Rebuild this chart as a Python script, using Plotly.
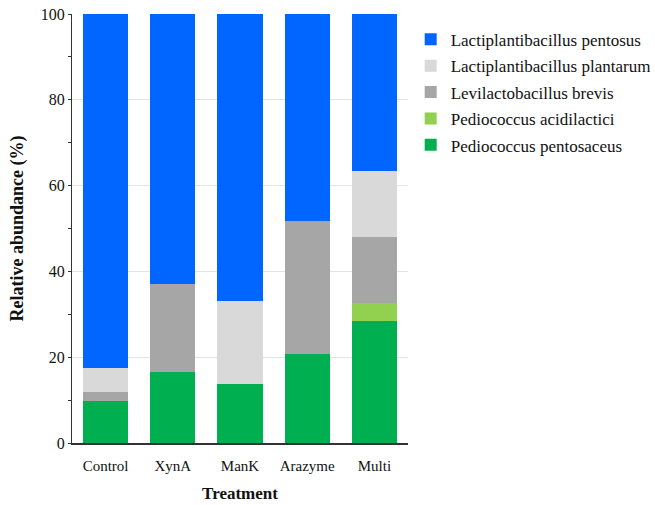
import plotly.graph_objects as go

treatments = ["Control", "XynA", "ManK", "Arazyme", "Multi"]

# relative abundance (%) per species, stacked bottom to top
p_pentosaceus = [9.8, 16.6, 13.7, 20.8, 28.4]
p_acidilactici = [0.0, 0.0, 0.0, 0.0, 4.2]
l_brevis = [2.0, 20.5, 0.0, 31.0, 15.4]
l_plantarum = [5.7, 0.0, 19.5, 0.0, 15.4]
l_pentosus = [82.5, 62.9, 66.8, 48.2, 36.6]

series = [
    ("Pediococcus pentosaceus", p_pentosaceus, "#00B050"),
    ("Pediococcus acidilactici", p_acidilactici, "#92D050"),
    ("Levilactobacillus brevis", l_brevis, "#A6A6A6"),
    ("Lactiplantibacillus plantarum", l_plantarum, "#D9D9D9"),
    ("Lactiplantibacillus pentosus", l_pentosus, "#0066FF"),
]

font_family = "Liberation Serif"

fig = go.Figure()
for i, (name, vals, color) in enumerate(series):
    fig.add_trace(go.Bar(
        x=treatments, y=vals, name=name, legendgroup=name,
        legendrank=1000 - i,  # top of the stack listed first
        marker=dict(color=color, line=dict(width=0)),
    ))

fig.update_layout(
    width=655, height=505,
    barmode="stack", bargap=0.33,
    plot_bgcolor="white", paper_bgcolor="white",
    margin=dict(l=72, r=247, t=14, b=62, autoexpand=False),
    font=dict(family=font_family, size=16, color="#111111"),
    legend=dict(
        traceorder="grouped", x=1.008, y=0.982, xanchor="left", yanchor="top",
        xref="paper", yref="paper",
        font=dict(size=17, family=font_family, color="#111111"),
        tracegroupgap=1.3, itemwidth=30,
    ),
    xaxis=dict(
        title=dict(text="<b>Treatment</b>", font=dict(size=17), standoff=14),
        showline=True, linecolor="#333333", linewidth=1.5,
        ticks="", tickfont=dict(size=15), ticklabelstandoff=8,
        automargin=False,
    ),
    yaxis=dict(
        title=dict(text="<b>Relative abundance (%)</b>", font=dict(size=18), standoff=12),
        range=[0, 100], dtick=20, showline=True, linecolor="#333333", linewidth=1,
        ticks="outside", ticklen=3, tickcolor="#333333",
        minor=dict(dtick=10, ticks="outside", ticklen=3, tickcolor="#333333", showgrid=False),
        showgrid=True, gridcolor="#E3E3E3", gridwidth=1,
        tickfont=dict(size=16), zeroline=False, automargin=False,
    ),
)

fig.write_html("out.html")
